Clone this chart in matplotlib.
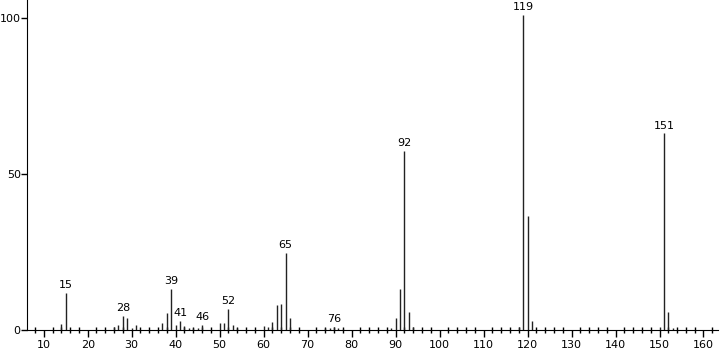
import matplotlib
matplotlib.use('Agg')
import matplotlib.pyplot as plt
from matplotlib.ticker import MultipleLocator

# m/z values and relative intensities
mz = [14, 15, 26, 27, 28, 29, 30, 31, 37, 38, 39, 40, 41, 42, 43, 44, 45, 46,
      50, 51, 52, 53, 54, 60, 61, 62, 63, 64, 65, 66, 74, 75, 76, 77, 78,
      89, 90, 91, 92, 93, 94, 118, 119, 120, 121, 150, 151, 152, 153]
intensity = [2.0, 11.9, 1.0, 1.7, 4.6, 3.7, 0.8, 1.7, 2.4, 5.4, 13.2, 1.5, 3.0, 1.2, 0.8, 0.5, 0.8, 1.7,
             2.4, 2.2, 6.8, 1.6, 0.5, 1.4, 0.9, 2.7, 8.0, 8.4, 24.7, 3.8, 0.7, 0.5, 1.0, 0.5, 0.3,
             0.6, 3.8, 13.0, 57.5, 5.7, 1.0, 1.0, 101.0, 36.4, 3.0, 1.0, 63.1, 5.9, 0.5]

# peaks that carry a label
labelled = [15, 28, 39, 41, 46, 52, 65, 76, 92, 119, 151]

fig = plt.figure(figsize=(7.2, 3.52), dpi=100)
ax = fig.add_axes([27 / 720, 22 / 352, 691 / 720, 330 / 352])

ax.vlines(mz, 0, intensity, colors='#222222', linewidth=1.0)

for m, h in zip(mz, intensity):
    if m in labelled:
        ax.text(m, h + 0.8, str(m), ha='center', va='bottom', fontsize=8)

ax.set_xlim(6.2, 163.3)
ax.set_ylim(0, 105.8)

ax.spines['top'].set_visible(False)
ax.spines['right'].set_visible(False)

ax.xaxis.set_major_locator(MultipleLocator(10))
ax.xaxis.set_minor_locator(MultipleLocator(2))
ax.set_yticks([0, 50, 100])
ax.tick_params(axis='x', which='major', length=5, width=1, direction='out', labelsize=8, pad=2)
ax.tick_params(axis='x', which='minor', length=4, width=1, direction='inout')
ax.tick_params(axis='y', which='major', length=4, width=1, direction='out', labelsize=8, pad=0.5)

fig.savefig('out.png', dpi=100)
